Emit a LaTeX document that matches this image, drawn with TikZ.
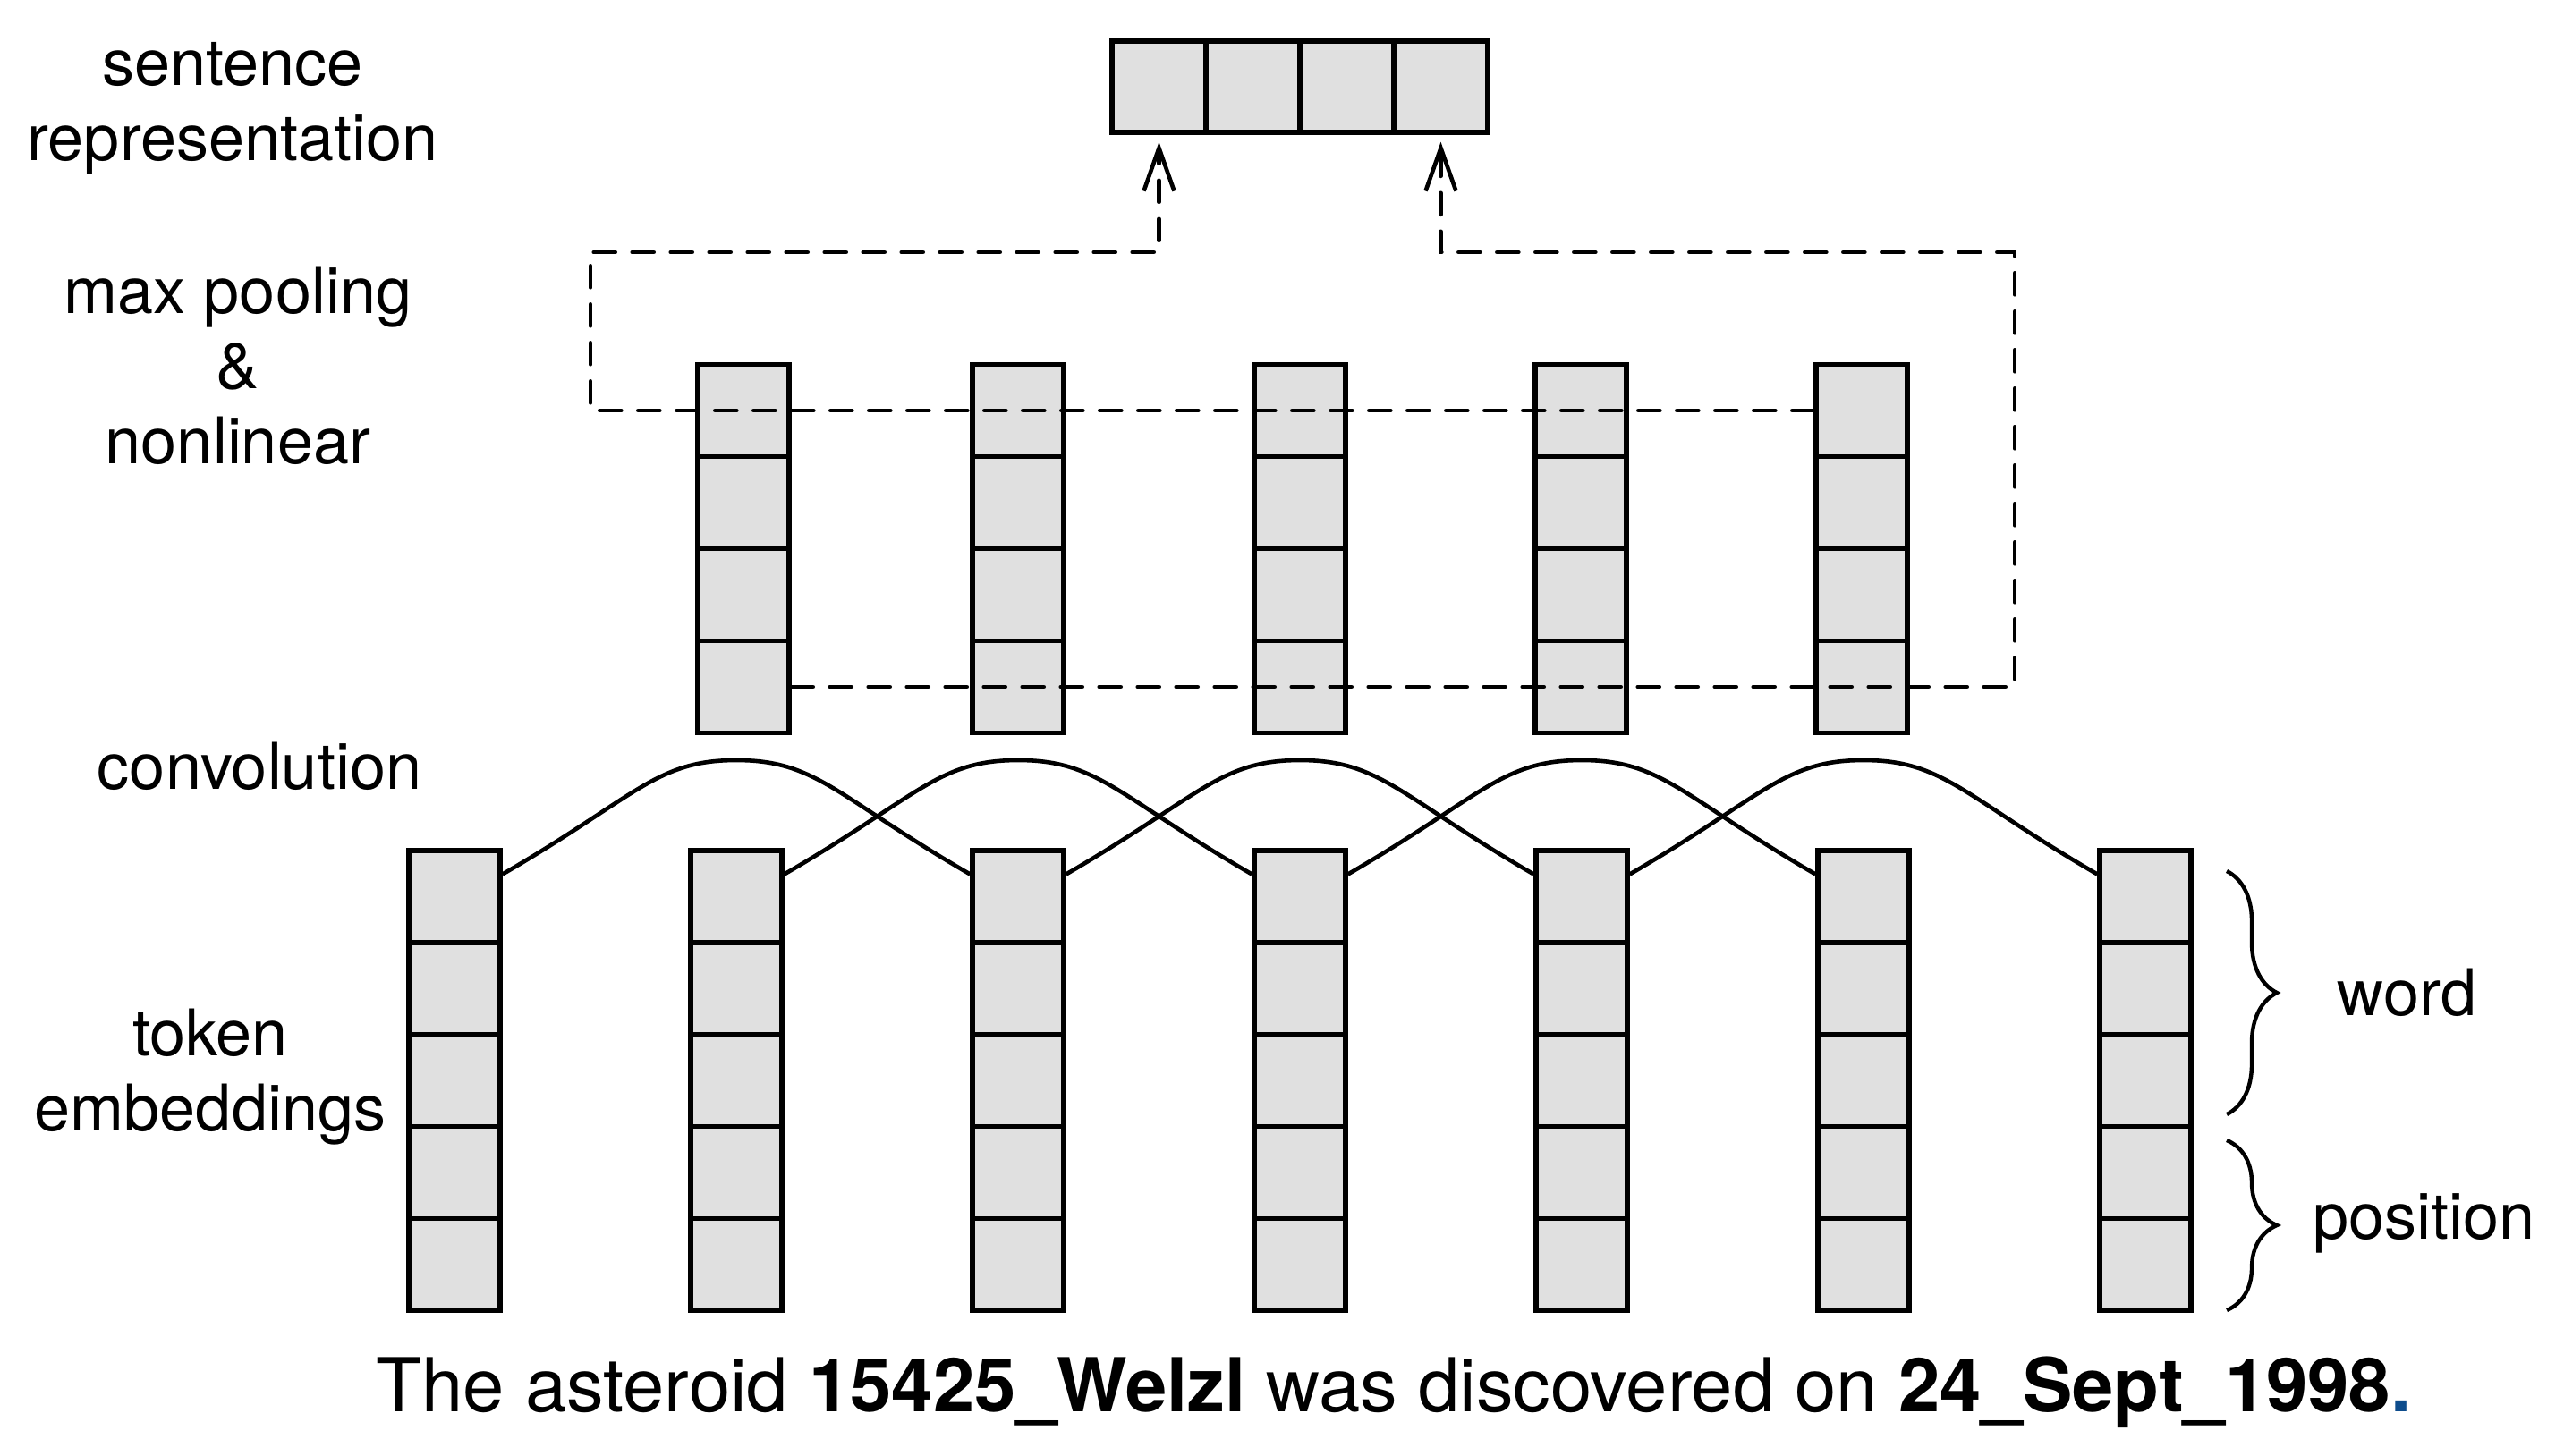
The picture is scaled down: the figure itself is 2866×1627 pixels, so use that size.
\documentclass[tikz,border=0pt]{standalone}
\usepackage{fontspec}
\setmainfont{TeX Gyre Heros}
\usetikzlibrary{arrows.meta,decorations.pathreplacing}
\definecolor{cellgray}{HTML}{E0E0E0}
\definecolor{dotblue}{HTML}{0D4C8C}
\begin{document}
\begin{tikzpicture}[x=0.25pt,y=-0.25pt,
  cell/.style={draw,fill=cellgray,line width=1.35pt,inner sep=0pt,minimum width=25.5pt,minimum height=25.75pt},
  topcell/.style={cell,minimum width=26.25pt,minimum height=25.5pt},
  conv/.style={line width=1.15pt},
  pool/.style={line width=1.15pt,dash pattern=on 6pt off 4.75pt,line cap=round},
  pooltip/.style={-{Straight Barb[length=12pt,width=8.5pt]},shorten >=2pt},
  brc/.style={line width=1.1pt,decorate,decoration={brace,amplitude=14pt}},
  lbl/.style={font=\fontsize{18}{21}\selectfont,anchor=base,inner sep=0pt},
  sent/.style={font=\fontsize{20.8}{25}\selectfont,anchor=base west,inner sep=0pt}]
\useasboundingbox (0,0) rectangle (2866,1627);

% token embedding columns
\foreach \i in {1,...,7}{
  \foreach \j in {1,...,5}{
    \node[cell] (t-\i-\j) at ({508+315*(\i-1)},{1002.5+102.8*(\j-1)}) {};
  }
}
% convolution output columns
\foreach \x [count=\i] in {831,1138,1453,1767,2081}{
  \foreach \j in {1,...,4}{
    \node[cell] (h-\i-\j) at (\x,{459+103*(\j-1)}) {};
  }
}
% sentence representation
\foreach \k in {1,...,4}{
  \node[topcell] (s-\k) at ({1295.5+105*(\k-1)},97) {};
}

% convolution curves
\foreach \i in {1,...,5}{
  \pgfmathtruncatemacro\m{\i+1}
  \pgfmathtruncatemacro\n{\i+2}
  \coordinate (pk-\i) at (t-\m-1.center |- 0,850);
  \draw[conv] (t-\i-1.25) .. controls +(150,-87) and +(-90,0) .. (pk-\i)
              .. controls +(90,0) and +(-150,-87) .. (t-\n-1.155);
}

% max pooling connectors
\coordinate (L) at (660,282);
\coordinate (R) at (2252,282);
\draw[pool,pooltip] (h-5-1.west) -| (L) -| (s-1.south);
\draw[pool,pooltip] (h-1-4.east) -| (R) -| (s-4.south);

% braces
\draw[brc] (2489,974) -- (2489,1246);
\draw[brc] (2489,1275) -- (2489,1465);

% labels
\node[lbl] (lab-s1) at (260,95) {sentence};
\node[lbl] (lab-s2) at (260,179) {representation};
\node[lbl] (lab-m1) at (266,350) {max pooling};
\node[lbl] (lab-m2) at (266,434) {\&};
\node[lbl] (lab-m3) at (266,518) {nonlinear};
\node[lbl] (lab-c) at (290,882) {convolution};
\node[lbl] (lab-t1) at (235,1180) {token};
\node[lbl] (lab-t2) at (235,1264) {embeddings};
\node[lbl,anchor=base west] (lab-w) at (2612,1135) {word};
\node[lbl,anchor=base west] (lab-p) at (2585,1385) {position};
\node[sent] (sentence) at (420,1578) {The asteroid \textbf{15425\_Welzl} was discovered on \textbf{24\_Sept\_1998}\textcolor{dotblue}{\textbf{.}}};
\end{tikzpicture}
\end{document}
